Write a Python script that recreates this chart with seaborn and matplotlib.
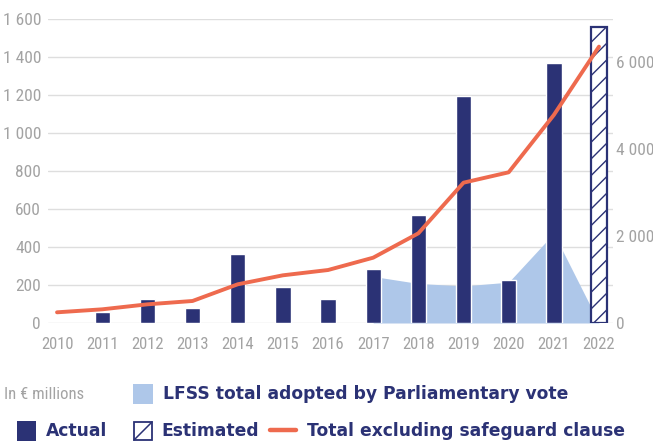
import numpy as np
import pandas as pd
import matplotlib
matplotlib.use("Agg")
import matplotlib.pyplot as plt
import seaborn as sns
from matplotlib.patches import Rectangle
from matplotlib.lines import Line2D

# ---- data ----
years = ['2010', '2011', '2012', '2013', '2014', '2015', '2016',
         '2017', '2018', '2019', '2020', '2021', '2022']
actual = [np.nan, 60, 126, 81, 363, 189, 126, 284, 567, 1196, 226, 1368, np.nan]
estimated = [np.nan] * 12 + [1556]
lfss_years = ['2017', '2018', '2019', '2020', '2021', '2022']
lfss = [245, 208, 195, 215, 472, 0]
total_excl = [246, 315, 430, 507, 891, 1098, 1220, 1504, 2065, 3231, 3470, 4790, 6364]

left_ticks = [0, 200, 400, 600, 800, 1000, 1200, 1400, 1600]
left_labels = ['0', '200', '400', '600', '800', '1 000', '1 200', '1 400', '1 600']
right_ticks = [0, 2000, 4000, 6000]
right_labels = ['0', '2 000', '4 000', '6 000']

# ---- style ----
NAVY = '#2B3275'
ORANGE = '#EE6A4E'
LIGHT = '#AEC7E9'
GRAY = '#A3A3A3'
GRID = '#DEDEDE'

sns.set_theme(style='white')
plt.rcParams['font.family'] = ['DejaVu Sans']
plt.rcParams['hatch.linewidth'] = 1.0
NARROW = ['Roboto Condensed', 'DejaVu Sans']
STRETCH = 'condensed'

W, H = 653, 444
fig = plt.figure(figsize=(W / 100, H / 100), dpi=100)
ax = fig.add_axes([48 / W, 1 - 323 / H, (613 - 48) / W, (323 - 19) / H])

df = pd.DataFrame({'year': years, 'actual': actual, 'estimated': estimated})

# area (LFSS)
xpos_lfss = [years.index(y) for y in lfss_years]
ax.fill_between(xpos_lfss, lfss, 0, color=LIGHT, lw=0, zorder=1)

# actual bars
sns.barplot(data=df, x='year', y='actual', order=years, color=NAVY,
            saturation=1, width=0.34, errorbar=None, ax=ax, zorder=2)
# estimated bar
sns.barplot(data=df, x='year', y='estimated', order=years, color='white',
            edgecolor=NAVY, linewidth=1.6, hatch='//', saturation=1,
            width=0.34, errorbar=None, ax=ax, zorder=2)

ax.set_xlim(-0.2, 12.31)
ax.set_ylim(0, 1600)
ax.set_yticks(left_ticks, left_labels)
ax.set_xticks(range(len(years)), years)
ax.set_xlabel('')
ax.set_ylabel('')
ax.yaxis.grid(True, color=GRID, lw=1)
ax.set_axisbelow(True)
ax.tick_params(axis='y', length=0, pad=5, labelcolor=GRAY, labelsize=12.5)
ax.tick_params(axis='x', length=0, pad=10, labelcolor=GRAY, labelsize=12)
for lab in ax.get_yticklabels() + ax.get_xticklabels():
    lab.set_family(NARROW)
    lab.set_stretch(STRETCH)
for s in ax.spines.values():
    s.set_visible(False)

# line on right axis
ax2 = ax.twinx()
sns.lineplot(x=np.arange(len(years)), y=total_excl, color=ORANGE, lw=2.8,
             ax=ax2, zorder=3)
ax2.set_ylim(0, 7000)
ax2.set_xlim(-0.2, 12.31)
ax2.set_yticks(right_ticks, right_labels)
ax2.tick_params(axis='y', length=0, pad=2, labelcolor=GRAY, labelsize=12.5)
for lab in ax2.get_yticklabels():
    lab.set_family(NARROW)
    lab.set_stretch(STRETCH)
ax2.grid(False)
for s in ax2.spines.values():
    s.set_visible(False)

# ---- legend (manual) ----
def fx(x):
    return x / W

def fy(y):
    return 1 - y / H

TXT = dict(color=NAVY, fontsize=12.3, fontweight='bold', va='center', ha='left')
r1, r2 = 394, 431
fig.text(fx(4), fy(r1), 'In € millions', color=GRAY, fontsize=12,
         va='center', ha='left', family=NARROW, stretch=STRETCH)
fig.patches.append(Rectangle((fx(133), fy(r1 + 10)), 20 / W, 20 / H,
                             transform=fig.transFigure, color=LIGHT, lw=0))
fig.text(fx(163), fy(r1), 'LFSS total adopted by Parliamentary vote', **TXT)

fig.patches.append(Rectangle((fx(17), fy(r2 + 10)), 19 / W, 20 / H,
                             transform=fig.transFigure, color=NAVY, lw=0))
fig.text(fx(46), fy(r2), 'Actual', **TXT)

fig.patches.append(Rectangle((fx(134), fy(r2 + 9)), 18 / W, 18 / H,
                             transform=fig.transFigure, facecolor='white',
                             edgecolor=NAVY, lw=1.3))
fig.lines.append(Line2D([fx(134), fx(152)], [fy(r2 + 9), fy(r2 - 9)],
                        transform=fig.transFigure, color=NAVY, lw=1.1))
fig.text(fx(161), fy(r2), 'Estimated', **TXT)

fig.lines.append(Line2D([fx(270), fx(296)], [fy(r2 - 1), fy(r2 - 1)],
                        transform=fig.transFigure, color=ORANGE, lw=3.2))
fig.text(fx(307), fy(r2), 'Total excluding safeguard clause', **TXT)

fig.savefig('out.png', dpi=100)
